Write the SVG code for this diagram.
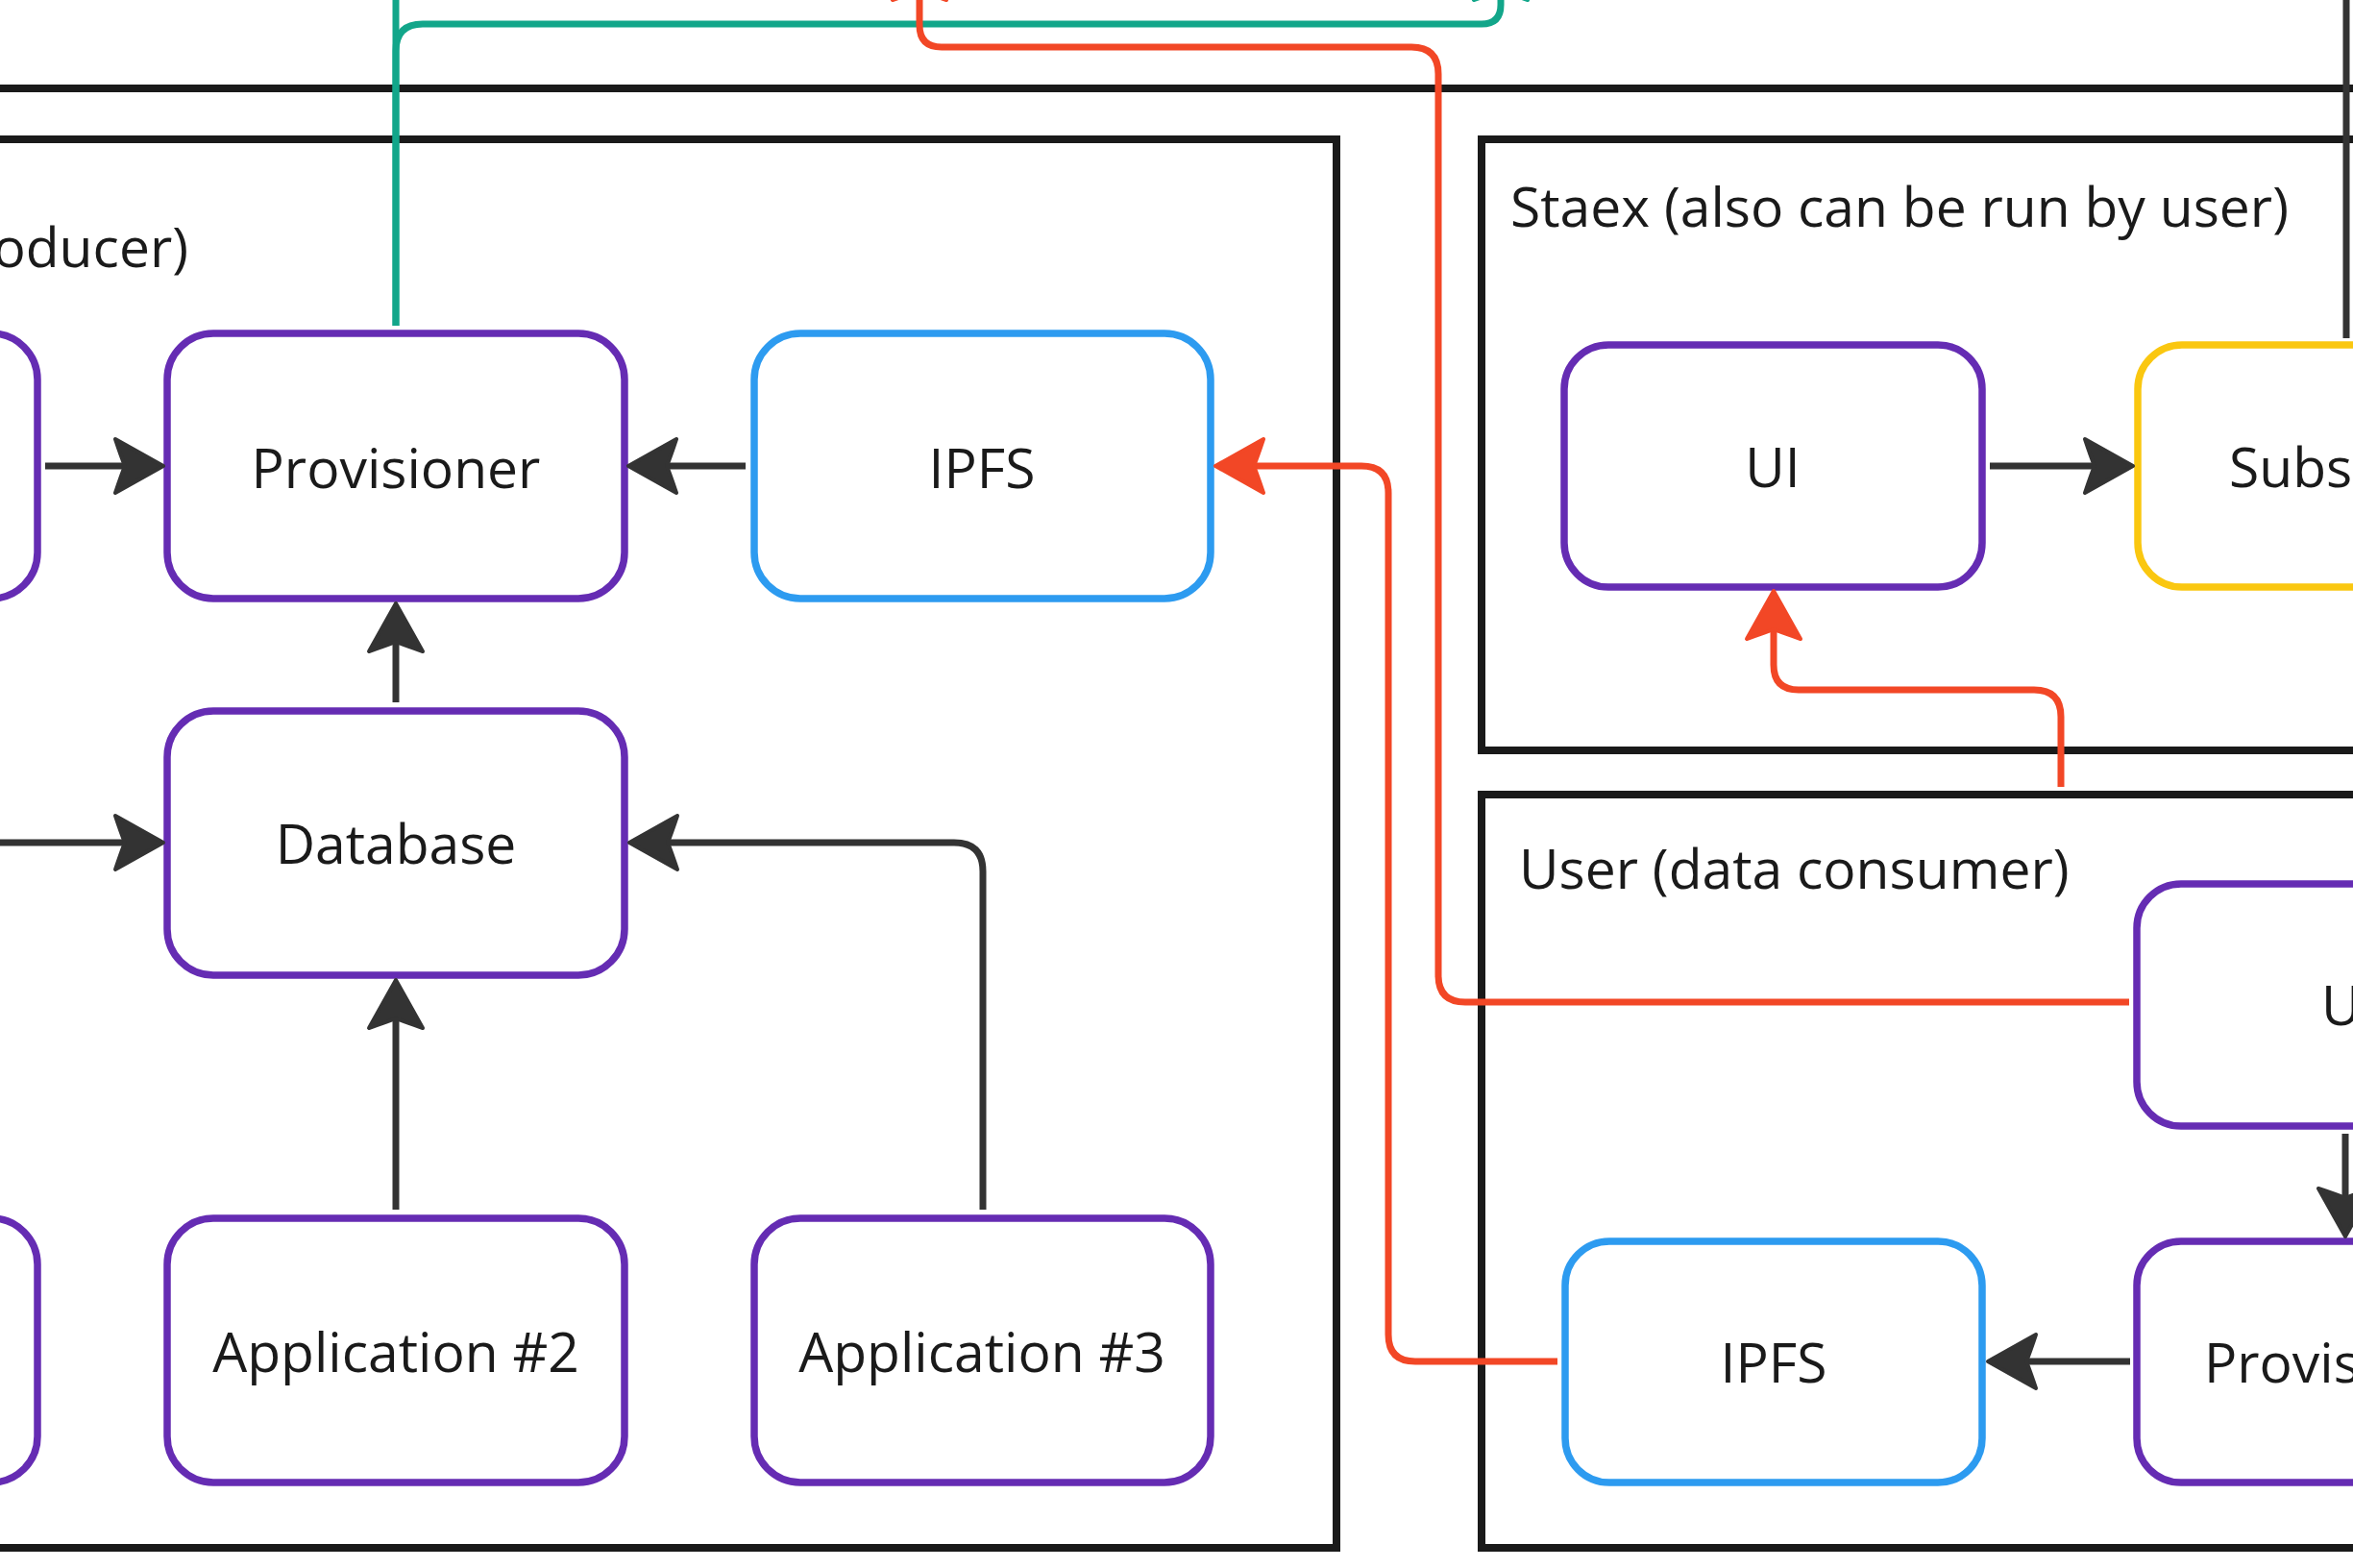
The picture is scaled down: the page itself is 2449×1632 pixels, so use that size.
<svg xmlns="http://www.w3.org/2000/svg" width="2449" height="1632" viewBox="0 0 2449 1632">
<defs>
<style>
.frame{fill:none;stroke:#1a1a1a;stroke-width:8}
.node{fill:#ffffff;stroke-width:7.5}
.purple{stroke:#652CB3}
.blue{stroke:#2D9BF0}
.yellow{stroke:#FAC710}
.lbl{font-family:"Open Sans","Noto Sans","Liberation Sans",sans-serif;font-size:57px;fill:#1a1a1a}
.mid{text-anchor:middle}
.c{fill:none;stroke-width:7;stroke-linejoin:round}
.dark{stroke:#333333}
.orange{stroke:#F24726}
.green{stroke:#12A68A}
</style>
<marker id="ad" viewBox="-56 -34 60 68" refX="-40" refY="0" markerWidth="60" markerHeight="68" markerUnits="userSpaceOnUse" orient="auto">
<path d="M0,0 L-50,-28 Q-44,-10 -40,0 Q-44,10 -50,28 Z" fill="#333333" stroke="#333333" stroke-width="4" stroke-linejoin="round"/>
</marker>
<marker id="ao" viewBox="-56 -34 60 68" refX="-40" refY="0" markerWidth="60" markerHeight="68" markerUnits="userSpaceOnUse" orient="auto">
<path d="M0,0 L-50,-28 Q-44,-10 -40,0 Q-44,10 -50,28 Z" fill="#F24726" stroke="#F24726" stroke-width="4" stroke-linejoin="round"/>
</marker>
<marker id="ag" viewBox="-56 -34 60 68" refX="-40" refY="0" markerWidth="60" markerHeight="68" markerUnits="userSpaceOnUse" orient="auto">
<path d="M0,0 L-50,-28 Q-44,-10 -40,0 Q-44,10 -50,28 Z" fill="#12A68A" stroke="#12A68A" stroke-width="4" stroke-linejoin="round"/>
</marker>
</defs>
<rect width="2449" height="1632" fill="#ffffff"/>

<g id="frames">
<rect id="outer-frame" class="frame" x="-100" y="92" width="2700" height="1700"/>
<g id="producer-frame">
<rect class="frame" x="-100" y="145" width="1491" height="1466"/>
<text class="lbl" x="196" y="278" text-anchor="end">oducer)</text>
</g>
<g id="staex-frame">
<rect class="frame" x="1542" y="145" width="1100" height="636"/>
<text class="lbl" x="1572" y="236">Staex (also can be run by user)</text>
</g>
<g id="user-frame">
<rect class="frame" x="1542" y="827" width="1100" height="784"/>
<text class="lbl" x="1581" y="925">User (data consumer)</text>
</g>
</g>

<g id="node-left-top"><rect class="node purple" x="-437" y="347" width="476" height="276" rx="48"/></g>
<g id="node-provisioner"><rect class="node purple" x="174" y="347" width="476" height="276" rx="48"/><text class="lbl mid" x="412" y="508">Provisioner</text></g>
<g id="node-ipfs-producer"><rect class="node blue" x="785" y="347" width="475" height="276" rx="48"/><text class="lbl mid" x="1022" y="508">IPFS</text></g>
<g id="node-database"><rect class="node purple" x="174" y="740" width="476" height="275" rx="48"/><text class="lbl mid" x="412" y="899">Database</text></g>
<g id="node-left-bottom"><rect class="node purple" x="-437" y="1268" width="476" height="275" rx="48"/></g>
<g id="node-app2"><rect class="node purple" x="174" y="1268" width="476" height="275" rx="48"/><text class="lbl mid" x="412" y="1428">Application #2</text></g>
<g id="node-app3"><rect class="node purple" x="785" y="1268" width="475" height="275" rx="48"/><text class="lbl mid" x="1022" y="1428">Application #3</text></g>
<g id="node-ui"><rect class="node purple" x="1628" y="359" width="435" height="252" rx="46"/><text class="lbl mid" x="1845" y="507">UI</text></g>
<g id="node-subs"><rect class="node yellow" x="2225" y="359" width="435" height="252" rx="46"/><text class="lbl" x="2320" y="507">Subs</text></g>
<g id="node-u"><rect class="node purple" x="2224" y="920" width="435" height="252" rx="46"/><text class="lbl" x="2416" y="1067">U</text></g>
<g id="node-ipfs-consumer"><rect class="node blue" x="1629" y="1292" width="434" height="251" rx="46"/><text class="lbl mid" x="1846" y="1439">IPFS</text></g>
<g id="node-provis"><rect class="node purple" x="2224" y="1292" width="435" height="251" rx="46"/><text class="lbl" x="2294" y="1439">Provis</text></g>

<g id="connectors">
<path class="c dark" d="M47 485 H130" marker-end="url(#ad)"/>
<path class="c dark" d="M776 485 H694" marker-end="url(#ad)"/>
<path class="c dark" d="M412 731 V668" marker-end="url(#ad)"/>
<path class="c dark" d="M-10 877 H130" marker-end="url(#ad)"/>
<path class="c dark" d="M1023 1259 V907 Q1023 877 993 877 H695" marker-end="url(#ad)"/>
<path class="c dark" d="M412 1259 V1060" marker-end="url(#ad)"/>
<path class="c dark" d="M2071 485 H2180" marker-end="url(#ad)"/>
<path class="c dark" d="M2442 -20 V352"/>
<path class="c dark" d="M2441 1180 V1247" marker-end="url(#ad)"/>
<path class="c dark" d="M2217 1417 H2109" marker-end="url(#ad)"/>
<path class="c green" d="M412 339 V-20"/>
<path class="c green" d="M412 339 V53 Q412 25 440 25 H1542 Q1562 25 1562 5 V-10" marker-end="url(#ag)"/>
<path class="c orange" d="M2216 1043 H1525 Q1497 1043 1497 1015 V77 Q1497 49 1469 49 H980 Q957 49 957 26 V-10" marker-end="url(#ao)"/>
<path class="c orange" d="M1621 1417 H1473 Q1445 1417 1445 1389 V513 Q1445 485 1417 485 H1305" marker-end="url(#ao)"/>
<path class="c orange" d="M2145 819 V746 Q2145 718 2117 718 H1872 Q1846 718 1846 692 V655" marker-end="url(#ao)"/>
</g>
</svg>
